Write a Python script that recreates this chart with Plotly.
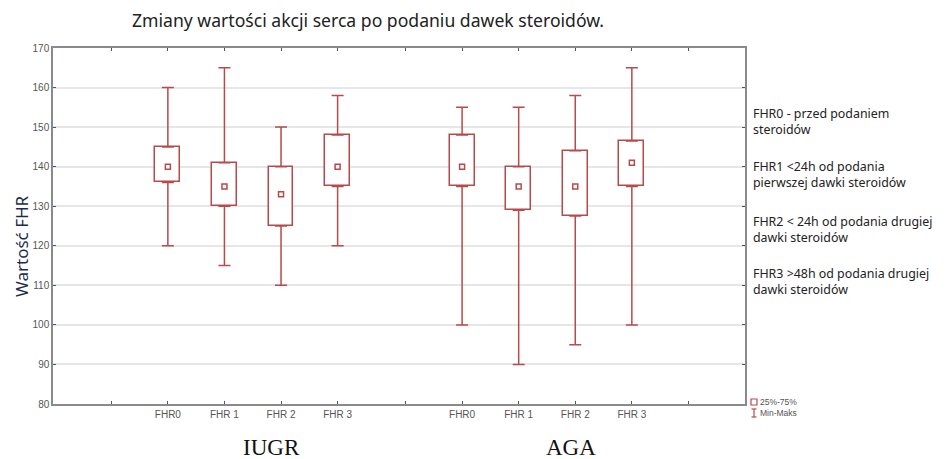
import plotly.graph_objects as go

# ---- data ----
iugr_labels = ["FHR0", "FHR 1", "FHR 2", "FHR 3"]
aga_labels = ["FHR0", "FHR 1", "FHR 2", "FHR 3"]
iugr_pos = [0, 1, 2, 3]
aga_pos = [5.2, 6.2, 7.2, 8.2]
empty_tick_pos = [-1, 4.2, 9.2]

iugr_min = [120, 115, 110, 120]
iugr_q1 = [136, 130, 125, 135]
iugr_med = [140, 135, 133, 140]
iugr_q3 = [145, 141, 140, 148]
iugr_max = [160, 165, 150, 158]

aga_min = [100, 90, 95, 100]
aga_q1 = [135, 129, 127.5, 135]
aga_med = [140, 135, 135, 141]
aga_q3 = [148, 140, 144, 146.5]
aga_max = [155, 155, 158, 165]

y_ticks = [80, 90, 100, 110, 120, 130, 140, 150, 160, 170]

notes = [
    "FHR0 - przed podaniem<br>steroidów",
    "FHR1 <24h od podania<br>pierwszej dawki steroidów",
    "FHR2 < 24h od podania drugiej<br>dawki steroidów",
    "FHR3 >48h od podania drugiej<br>dawki steroidów",
]
group_names = ["IUGR", "AGA"]
group_label_pos = [1.84, 7.12]

RED = "#B84A4A"

pos = iugr_pos + aga_pos
mn = iugr_min + aga_min
q1 = iugr_q1 + aga_q1
md = iugr_med + aga_med
q3 = iugr_q3 + aga_q3
mx = iugr_max + aga_max

fig = go.Figure()

# boxes 25%-75%
fig.add_trace(go.Bar(
    x=pos, y=[b - a for a, b in zip(q1, q3)], base=q1, width=0.44,
    marker=dict(color="white", line=dict(color=RED, width=1.5)),
    showlegend=False, hoverinfo="skip"))

# upper whiskers
fig.add_trace(go.Scatter(
    x=pos, y=q3, mode="markers", marker=dict(size=1, color="rgba(0,0,0,0)"),
    error_y=dict(type="data", symmetric=False,
                 array=[b - a for a, b in zip(q3, mx)],
                 arrayminus=[0] * len(pos),
                 color=RED, thickness=1.5, width=6),
    showlegend=False, hoverinfo="skip"))
# lower whiskers
fig.add_trace(go.Scatter(
    x=pos, y=q1, mode="markers", marker=dict(size=1, color="rgba(0,0,0,0)"),
    error_y=dict(type="data", symmetric=False,
                 array=[0] * len(pos),
                 arrayminus=[a - b for a, b in zip(q1, mn)],
                 color=RED, thickness=1.5, width=6),
    showlegend=False, hoverinfo="skip"))
# medians
fig.add_trace(go.Scatter(
    x=pos, y=md, mode="markers",
    marker=dict(symbol="square-open", size=5, color=RED, line=dict(width=1.5)),
    showlegend=False, hoverinfo="skip"))

tickvals = [empty_tick_pos[0]] + iugr_pos + [empty_tick_pos[1]] + aga_pos + [empty_tick_pos[2]]
ticktext = [""] + iugr_labels + [""] + aga_labels + [""]

# page has an 8px body margin; figure is sized so the plot area lands at x 53-745, y 48-404
fig.update_layout(
    width=938, height=451,
    margin=dict(l=45, r=201, t=40, b=55),
    paper_bgcolor="white", plot_bgcolor="white",
    bargap=0,
    xaxis=dict(range=[-2.03, 10.2], tickvals=tickvals, ticktext=ticktext,
               showgrid=False, zeroline=False,
               showline=True, linecolor="#8a8a8a", linewidth=1.5, mirror="ticks",
               ticks="inside", ticklen=3, tickcolor="#555555",
               tickfont=dict(family="Liberation Sans, Arial", size=10, color="#555555")),
    yaxis=dict(range=[80, 170], tickvals=y_ticks, showgrid=True,
               gridcolor="#e6e6e6", gridwidth=1.5, zeroline=False,
               showline=True, linecolor="#8a8a8a", linewidth=1.5, mirror="ticks",
               ticks="inside", ticklen=3, tickcolor="#555555",
               tickfont=dict(family="Liberation Sans, Arial", size=10, color="#555555")),
    font=dict(family="Noto Sans", color="#222222"),
)

def px_x(p):
    return (p - 53) / 692

def px_y(p):
    return (404 - p) / 356

annotations = []
annotations.append(dict(text="Zmiany wartości akcji serca po podaniu dawek steroidów.",
                        xref="paper", yref="paper", x=px_x(130), y=px_y(20),
                        xanchor="left", yanchor="middle", showarrow=False,
                        font=dict(family="Noto Sans", size=17.6, color="#222222")))
annotations.append(dict(text="Wartość FHR", xref="paper", yref="paper",
                        x=px_x(21), y=px_y(246), textangle=-90,
                        xanchor="center", yanchor="middle", showarrow=False,
                        font=dict(family="Noto Sans", size=17, color="#1c2b4a")))
for name, centre in zip(group_names, group_label_pos):
    annotations.append(dict(text=name, xref="x", yref="paper", x=centre,
                            y=px_y(447), xanchor="center", yanchor="middle",
                            showarrow=False,
                            font=dict(family="Liberation Serif, Times New Roman", size=23,
                                      color="#111111")))
for note, ypix in zip(notes, [121, 174, 229, 281]):
    annotations.append(dict(text=note, xref="paper", yref="paper", x=px_x(751),
                            y=px_y(ypix), xanchor="left", yanchor="middle",
                            align="left", showarrow=False,
                            font=dict(family="Noto Sans", size=12.4, color="#222222")))
# small legend
annotations.append(dict(text="25%-75%", xref="paper", yref="paper", x=px_x(758),
                        y=px_y(402), xanchor="left", yanchor="middle",
                        showarrow=False,
                        font=dict(family="Liberation Sans, Arial", size=8.5, color="#555555")))
annotations.append(dict(text="Min-Maks", xref="paper", yref="paper", x=px_x(758),
                        y=px_y(413), xanchor="left", yanchor="middle",
                        showarrow=False,
                        font=dict(family="Liberation Sans, Arial", size=8.5, color="#555555")))
fig.update_layout(annotations=annotations)

shapes = [
    dict(type="rect", xref="paper", yref="paper", x0=px_x(751), x1=px_x(757),
         y0=px_y(405), y1=px_y(399), line=dict(color=RED, width=1.2), fillcolor="white"),
    dict(type="line", xref="paper", yref="paper", x0=px_x(754), x1=px_x(754),
         y0=px_y(409), y1=px_y(417), line=dict(color=RED, width=1.2)),
    dict(type="line", xref="paper", yref="paper", x0=px_x(751.5), x1=px_x(756.5),
         y0=px_y(409), y1=px_y(409), line=dict(color=RED, width=1.2)),
    dict(type="line", xref="paper", yref="paper", x0=px_x(751.5), x1=px_x(756.5),
         y0=px_y(417), y1=px_y(417), line=dict(color=RED, width=1.2)),
]
fig.update_layout(shapes=shapes)

fig.write_html("out.html")
